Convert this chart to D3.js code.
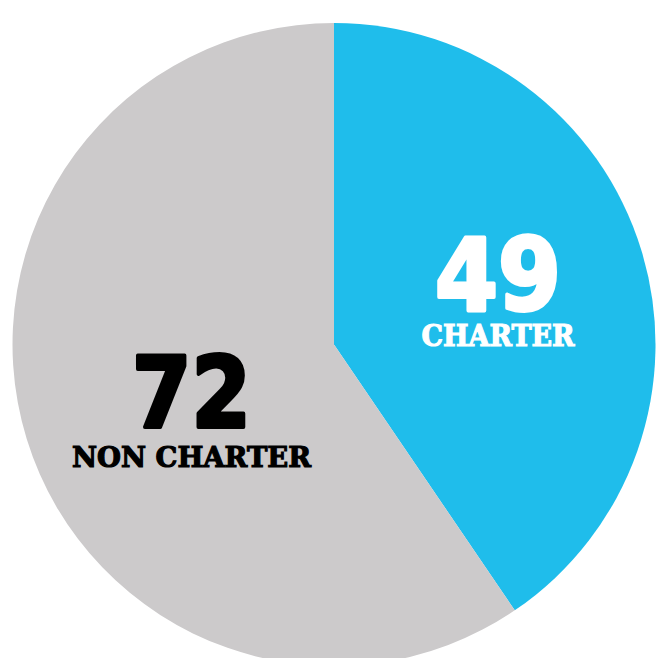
<!DOCTYPE html>
<html><head><meta charset="utf-8">
<script src="https://cdn.jsdelivr.net/npm/d3@7"></script>
<style>html,body{margin:0;padding:0;background:#fff;}svg{display:block;}</style>
</head><body>
<svg id="c" width="656" height="658"></svg>
<script>
const categories = ["CHARTER", "NON CHARTER"];
const values = [49, 72];
const colors = ["#1fbdeb", "#cccacb"];
const textColors = ["#ffffff", "#000000"];

const svg = d3.select("#c");
const cx = 334, cy = 344.5, R = 321.5;
const g = svg.append("g").attr("transform", `translate(${cx},${cy})`);

const pie = d3.pie().sort(null).value(d => d.v);
const data = pie(categories.map((c, i) => ({c, v: values[i], i})));
const arc = d3.arc().innerRadius(0).outerRadius(R);

g.selectAll("path").data(data).join("path")
  .attr("d", arc).attr("fill", d => colors[d.data.i]);

const layout = [
  {x: 164, nb: -34.5, nw: 126, ns: 100, lb: 1.5, lw: 153, ls: 30},
  {x: -142.5, nb: 82.5, nw: 119, ns: 98, lb: 122, lw: 239, ls: 28}
];
data.forEach((d, k) => {
  const L = layout[k];
  const col = textColors[d.data.i];
  g.append("text").text(d.data.v)
    .attr("x", L.x).attr("y", L.nb).attr("text-anchor", "middle")
    .attr("font-family", "DejaVu Sans").attr("font-weight", "bold")
    .attr("font-size", L.ns).attr("fill", col)
    .attr("stroke", col).attr("stroke-width", 4).attr("stroke-linejoin", "round")
    .attr("textLength", L.nw).attr("lengthAdjust", "spacingAndGlyphs");
  g.append("text").text(d.data.c)
    .attr("x", L.x).attr("y", L.lb).attr("text-anchor", "middle")
    .attr("font-family", "DejaVu Serif").attr("font-weight", "bold")
    .attr("font-size", L.ls).attr("fill", col)
    .attr("stroke", col).attr("stroke-width", 1.2)
    .attr("textLength", L.lw).attr("lengthAdjust", "spacingAndGlyphs");
});
</script>
</body></html>
